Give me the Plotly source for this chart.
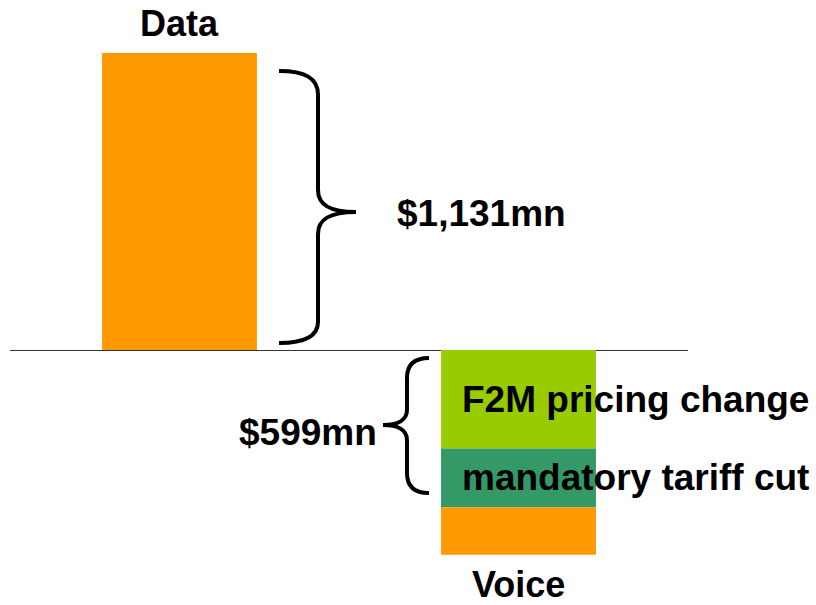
import plotly.graph_objects as go

# datos del grafico (US$ mn)
categorias = ["Data", "Voice"]
data_valor = [1131, 0]
f2m_valor = [0, -375]
tarifa_valor = [0, -224]
resto_voz = [0, -181]
etiqueta_data = "$1,131mn"
etiqueta_voz = "$599mn"

naranja = "#FF9900"
verde_claro = "#99CC00"
verde_osc = "#339966"

W, H = 816, 605
ML, MR = 10, 128
xs = list(range(len(categorias)))
ancho = 0.457


def px(x):
    return (x - ML) / (W - ML - MR)


def py(y):
    return (H - y) / H


def llave(puntos):
    # puntos en pixeles -> path en coordenadas paper
    out = []
    for p in puntos:
        if isinstance(p, str):
            out.append(p)
        else:
            out.append(f"{px(p[0]):.4f},{py(p[1]):.4f}")
    return " ".join(out)


fig = go.Figure()
for vals, color, nombre in [(data_valor, naranja, "Data"), (f2m_valor, verde_claro, "F2M"),
                            (tarifa_valor, verde_osc, "tarifa"), (resto_voz, naranja, "resto")]:
    fig.add_trace(go.Bar(x=xs, y=vals, marker_color=color, marker_line_width=0,
                         width=ancho, name=nombre))

fuente = dict(family="Liberation Sans, Arial", size=37, color="black", weight="bold")
fuente_cat = dict(family="Liberation Sans, Arial", size=36, color="black", weight="bold")

total_voz = f2m_valor[1] + tarifa_valor[1] + resto_voz[1]
anot = [
    dict(x=xs[0], y=data_valor[0], text=categorias[0], xref="x", yref="y",
         yanchor="bottom", yshift=7, showarrow=False, font=fuente_cat),
    dict(x=xs[1], y=total_voz, text=categorias[1], xref="x", yref="y",
         yanchor="top", yshift=-7, showarrow=False, font=fuente_cat),
    dict(x=xs[1] - ancho / 2, y=f2m_valor[1] / 2, text="F2M pricing change", xref="x", yref="y",
         xanchor="left", xshift=19, showarrow=False, font=fuente),
    dict(x=xs[1] - ancho / 2, y=f2m_valor[1] + tarifa_valor[1] / 2, text="mandatory tariff cut",
         xref="x", yref="y", xanchor="left", xshift=19, showarrow=False, font=fuente),
    dict(x=px(481), y=py(213), text=etiqueta_data, xref="paper", yref="paper",
         xanchor="center", yanchor="middle", showarrow=False, font=fuente),
    dict(x=px(308), y=py(433), text=etiqueta_voz, xref="paper", yref="paper",
         xanchor="center", yanchor="middle", showarrow=False, font=fuente),
]

llave_der = llave(["M", (279, 71), "C", (305, 71), (318, 78), (318, 95), "L", (318, 190),
                   "C", (318, 205), (330, 212), (356, 212), "C", (330, 212), (318, 219), (318, 234),
                   "L", (318, 322), "C", (318, 336), (305, 343), (279, 343)])
llave_izq = llave(["M", (429, 358), "C", (415, 358), (407, 364), (407, 378), "L", (407, 410),
                   "C", (407, 420), (398, 425), (383, 425), "C", (398, 425), (407, 430), (407, 440),
                   "L", (407, 473), "C", (407, 487), (415, 493), (429, 493)])

fig.update_layout(
    barmode="relative",
    width=W, height=H,
    margin=dict(l=ML, r=MR, t=0, b=0),
    paper_bgcolor="white", plot_bgcolor="white",
    showlegend=False,
    xaxis=dict(range=[-0.5, 1.5], visible=False),
    yaxis=dict(range=[-971, 1333], showgrid=False, showticklabels=False,
               zeroline=True, zerolinecolor="#333333", zerolinewidth=1),
    annotations=anot,
    shapes=[
        dict(type="path", path=llave_der, xref="paper", yref="paper",
             line=dict(color="black", width=4)),
        dict(type="path", path=llave_izq, xref="paper", yref="paper",
             line=dict(color="black", width=4)),
    ],
)

# quitar el margen del body para que la figura ocupe toda la ventana
fig.write_html("out.html", config={"displayModeBar": False},
               post_script="document.body.style.margin='0';document.body.style.overflow='hidden';")
